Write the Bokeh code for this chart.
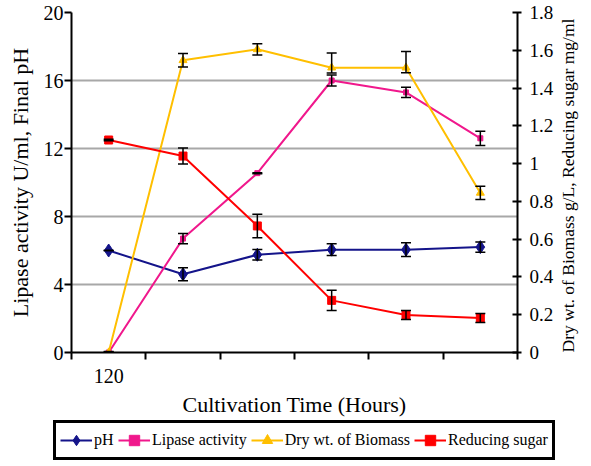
import math
from bokeh.plotting import figure
from bokeh.models import (Range1d, LinearAxis, FixedTicker, Whisker, TeeHead,
                          ColumnDataSource, Legend, LegendItem)
from bokeh.embed import file_html
from bokeh.resources import INLINE

# ---- data ----
time_labels = ["120", "", "", "", "", ""]
ph = [6.0, 4.6, 5.75, 6.05, 6.05, 6.2]
ph_err = [0.0, 0.38, 0.31, 0.35, 0.4, 0.3]
lipase = [0.0, 6.7, 10.55, 16.0, 15.3, 12.6]
lipase_err = [0.03, 0.3, 0.03, 0.33, 0.3, 0.42]
drywt = [0.0, 1.547, 1.605, 1.508, 1.508, 0.845]
drywt_err_plus = [0.005, 0.036, 0.03, 0.078, 0.085, 0.035]
drywt_err_minus = [0.005, 0.036, 0.03, 0.028, 0.027, 0.035]
sugar = [1.125, 1.04, 0.67, 0.276, 0.199, 0.183]
sugar_err = [0.004, 0.042, 0.062, 0.053, 0.024, 0.024]

series_names = ["pH", "Lipase activity", "Dry wt. of Biomass", "Reducing sugar"]
left_ticks = [0, 4, 8, 12, 16, 20]
right_ticks = [0, 0.2, 0.4, 0.6, 0.8, 1.0, 1.2, 1.4, 1.6, 1.8]
right_label = "Dry wt. of Biomass g/L, Reducing sugar mg/ml"

FONT = "Liberation Serif"
C_PH = "#14148a"
C_LIP = "#f0188c"
C_DRY = "#ffbf00"
C_SUG = "#ff0000"

W, H_MAIN, H_LEG = 591, 419, 45
FRAME_L, FRAME_R, FRAME_T, FRAME_B = 71, 522, 12, 353

n = len(time_labels)
x = [i + 0.5 for i in range(n)]

p = figure(width=W, height=H_MAIN, output_backend="svg", toolbar_location=None,
           x_range=Range1d(0, n), y_range=Range1d(0, 20),
           min_border_left=FRAME_L, min_border_right=W - FRAME_R, min_border_top=FRAME_T,
           min_border_bottom=H_MAIN - FRAME_B)
p.extra_y_ranges = {"right": Range1d(0, 1.8)}
p.outline_line_color = None
p.background_fill_color = "white"
p.border_fill_color = "white"

# grid
p.xgrid.visible = False
p.ygrid.ticker = FixedTicker(ticks=left_ticks)
p.ygrid.grid_line_color = "#a8a8a8"
p.ygrid.grid_line_width = 2

# bottom axis
xa = p.xaxis[0]
xa.ticker = FixedTicker(ticks=x, minor_ticks=list(range(n + 1)))
xa.major_label_overrides = {xi: lbl for xi, lbl in zip(x, time_labels)}
xa.major_tick_line_color = None
xa.major_tick_out = 0
xa.major_tick_in = 0
xa.minor_tick_out = 7
xa.minor_tick_in = 0
xa.minor_tick_line_color = "black"
xa.minor_tick_line_width = 2
xa.axis_line_color = "black"
xa.axis_line_width = 2
xa.major_label_standoff = 9
xa.major_label_text_font = FONT
xa.major_label_text_font_size = "20px"
xa.major_label_text_color = "black"
xa.axis_label = "Cultivation Time (Hours)"
xa.axis_label_text_font = FONT
xa.axis_label_text_font_size = "22px"
xa.axis_label_text_font_style = "normal"
xa.axis_label_text_color = "black"
xa.axis_label_standoff = 6

# left axis
ya = p.yaxis[0]
ya.ticker = FixedTicker(ticks=left_ticks)
ya.major_tick_out = 7
ya.major_tick_in = 0
ya.major_tick_line_width = 2
ya.major_tick_line_color = "black"
ya.minor_tick_line_color = None
ya.axis_line_color = "black"
ya.axis_line_width = 2
ya.major_label_standoff = 1
ya.major_label_text_font = FONT
ya.major_label_text_font_size = "20px"
ya.major_label_text_color = "black"
ya.axis_label = "Lipase activity U/ml, Final pH"
ya.axis_label_text_font = FONT
ya.axis_label_text_font_size = "22px"
ya.axis_label_text_font_style = "normal"
ya.axis_label_text_color = "black"
ya.axis_label_standoff = 8

# right axis
ra = LinearAxis(y_range_name="right", ticker=FixedTicker(ticks=right_ticks))
ra.major_label_overrides = {v: f"{v:g}" for v in right_ticks}
ra.major_tick_out = 4
ra.major_tick_in = 5
ra.major_tick_line_width = 2
ra.major_tick_line_color = "black"
ra.minor_tick_line_color = None
ra.axis_line_color = "black"
ra.axis_line_width = 2
ra.major_label_standoff = 8
ra.major_label_text_font = FONT
ra.major_label_text_font_size = "19px"
ra.major_label_text_color = "black"
ra.axis_label = right_label
ra.axis_label_text_font = FONT
ra.axis_label_text_font_size = "17.5px"
ra.axis_label_text_font_style = "normal"
ra.axis_label_text_color = "black"
ra.axis_label_standoff = 12


def try_set(obj, prop, vals):
    if prop in obj.properties():
        for v in vals:
            try:
                setattr(obj, prop, v)
                return True
            except Exception:
                pass
    return False


if try_set(ra, "axis_label_align", ["start", "left"]):
    try_set(ra, "axis_label_orientation", [math.pi / 2])
p.add_layout(ra, "right")

# series
src = ColumnDataSource(dict(
    x=x, ph=ph, lipase=lipase, drywt=drywt, sugar=sugar,
    ph_up=[v + e for v, e in zip(ph, ph_err)], ph_lo=[v - e for v, e in zip(ph, ph_err)],
    lip_up=[v + e for v, e in zip(lipase, lipase_err)], lip_lo=[v - e for v, e in zip(lipase, lipase_err)],
    dry_up=[v + e for v, e in zip(drywt, drywt_err_plus)], dry_lo=[v - e for v, e in zip(drywt, drywt_err_minus)],
    sug_up=[v + e for v, e in zip(sugar, sugar_err)], sug_lo=[v - e for v, e in zip(sugar, sugar_err)],
))

STYLE = [
    dict(col="ph", color=C_PH, marker="diamond", size=13, rng="default"),
    dict(col="lipase", color=C_LIP, marker="square", size=5, rng="default"),
    dict(col="drywt", color=C_DRY, marker="triangle", size=8, rng="right"),
    dict(col="sugar", color=C_SUG, marker="square", size=8, rng="right"),
]

for s in STYLE:
    p.line("x", s["col"], source=src, line_color=s["color"], line_width=2, y_range_name=s["rng"])
    p.scatter("x", s["col"], source=src, marker=s["marker"], size=s["size"],
              fill_color=s["color"], line_color=s["color"], y_range_name=s["rng"])


def add_whisker(up, lo, rng="default"):
    w = Whisker(source=src, base="x", upper=up, lower=lo, dimension="height",
                line_color="black", line_width=1.5, level="annotation",
                upper_head=TeeHead(size=10, line_color="black", line_width=1.5),
                lower_head=TeeHead(size=10, line_color="black", line_width=1.5),
                y_range_name=rng)
    p.add_layout(w)


add_whisker("ph_up", "ph_lo")
add_whisker("lip_up", "lip_lo")
add_whisker("dry_up", "dry_lo", "right")
add_whisker("sug_up", "sug_lo", "right")

# legend strip below the chart: a separate root, so its frame spans the full width
lf = figure(width=W, height=H_LEG, output_backend="svg", toolbar_location=None,
            x_range=Range1d(0, 1), y_range=Range1d(0, 1),
            x_axis_location=None, y_axis_location=None,
            min_border_left=0, min_border_right=0, min_border_top=0, min_border_bottom=0)
lf.outline_line_color = None
lf.grid.visible = False
lf.background_fill_color = "white"
lf.border_fill_color = "white"

items = []
for name, s in zip(series_names, STYLE):
    # legend-only renderers, kept outside the visible range
    r1 = lf.line([-3, -2], [-3, -2], line_color=s["color"], line_width=2)
    r2 = lf.scatter([-3], [-3], marker=s["marker"], size=s["size"],
                    fill_color=s["color"], line_color=s["color"])
    items.append(LegendItem(label=name, renderers=[r1, r2]))

legend = Legend(items=items, orientation="horizontal", location=(53, 4))
legend.label_text_font = FONT
legend.label_text_font_size = "16px"
legend.label_text_color = "black"
legend.glyph_width = 32
legend.glyph_height = 26
legend.label_standoff = 2
legend.spacing = 4
legend.padding = 4
legend.margin = 0
legend.border_line_color = "black"
legend.border_line_alpha = 1
legend.border_line_width = 3
legend.background_fill_color = "white"
legend.background_fill_alpha = 1
lf.add_layout(legend)

open("out.html", "w").write(file_html([p, lf], INLINE))
